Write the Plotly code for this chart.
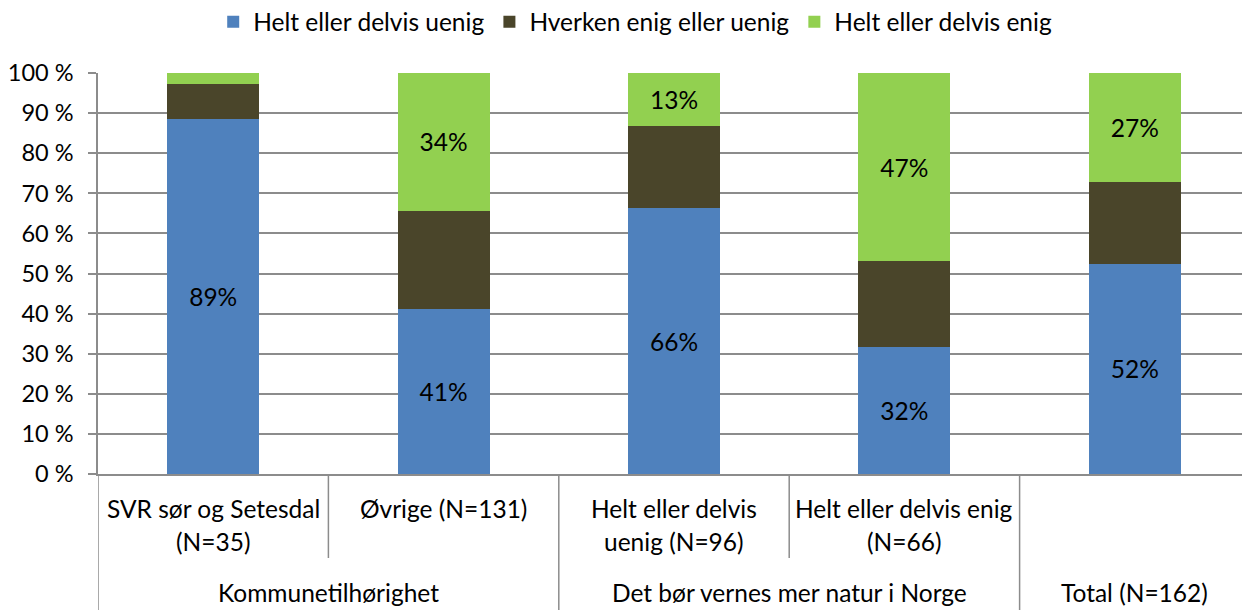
import plotly.graph_objects as go

# ---- data ----
categories = ["SVR sør og Setesdal (N=35)", "Øvrige (N=131)",
              "Helt eller delvis uenig (N=96)", "Helt eller delvis enig (N=66)",
              "Total (N=162)"]
cat_label_lines = [["SVR sør og Setesdal", "(N=35)"], ["Øvrige (N=131)"],
                   ["Helt eller delvis", "uenig (N=96)"], ["Helt eller delvis enig", "(N=66)"],
                   [""]]
groups = ["Kommunetilhørighet", "Det bør vernes mer natur i Norge", "Total (N=162)"]
group_members = [[0, 1], [2, 3], [4]]

series_names = ["Helt eller delvis uenig", "Hverken enig eller uenig", "Helt eller delvis enig"]
uenig = [88.6, 41.2, 66.3, 31.7, 52.4]
hverken = [8.6, 24.4, 20.5, 21.4, 20.4]
enig = [2.8, 34.4, 13.2, 46.9, 27.2]
show_labels = [True, False, True]

colors = ["#4F81BD", "#4A452A", "#92D050"]
FONT = "Lato"
FS = 24.5

fig = go.Figure()
for name, vals, col, lab in zip(series_names, [uenig, hverken, enig], colors, show_labels):
    txt = [f"{round(v)}%" if (lab and v >= 5) else "" for v in vals]
    fig.add_trace(go.Bar(
        x=categories, y=vals, name=name, marker=dict(color=col, line=dict(width=0)),
        text=txt, textposition="inside", insidetextanchor="middle", textangle=0,
        constraintext="none", textfont=dict(color="black", size=FS, family=FONT),
        hoverinfo="skip"))

n = len(categories)
fig.update_layout(
    width=1242, height=602, barmode="stack", bargap=0.6,
    margin=dict(l=90, r=0, t=65, b=136, autoexpand=False),
    plot_bgcolor="white", paper_bgcolor="white",
    font=dict(family=FONT, size=FS, color="black"),
    legend=dict(orientation="h", xref="container", yref="container",
                x=0.505, y=0.977, xanchor="center", yanchor="middle",
                font=dict(size=FS), itemwidth=30, traceorder="normal"),
    xaxis=dict(type="category", range=[-0.5, n - 0.5], showticklabels=False,
               showline=True, linecolor="#8c8c8c", linewidth=1.5, showgrid=False,
               zeroline=False, fixedrange=True),
    yaxis=dict(range=[0, 100], dtick=10, ticksuffix=" %", showgrid=True,
               gridcolor="#8c8c8c", gridwidth=1.5, showline=True, linecolor="#8c8c8c",
               linewidth=1.5, ticks="outside", ticklen=8, tickcolor="#8c8c8c",
               tickwidth=1.5, zeroline=False, ticklabelstandoff=10,
               tickfont=dict(size=23.5)),
)

# first-level category labels (one annotation per line)
for i, lines in enumerate(cat_label_lines):
    for k, line in enumerate(lines):
        if line:
            fig.add_annotation(x=categories[i], y=0, yref="paper", text=line,
                               showarrow=False, yanchor="middle", yshift=-34 - 33 * k,
                               font=dict(size=FS))

# group labels
for g, members in zip(groups, group_members):
    xc = sum(members) / len(members)
    fig.add_annotation(x=xc, y=0, yref="paper", text=g, showarrow=False,
                       yanchor="middle", yshift=-118, font=dict(size=FS))

# separators
boundaries_inner = [0.5, 2.5]
boundaries_full = [-0.5, 1.5, 3.5, n - 0.5]
for b in boundaries_inner:
    fig.add_shape(type="line", xref="x", yref="paper", ysizemode="pixel", yanchor=0,
                  x0=b, x1=b, y0=0, y1=-84, line=dict(color="#8c8c8c", width=1.5))
for b in boundaries_full:
    fig.add_shape(type="line", xref="x", yref="paper", ysizemode="pixel", yanchor=0,
                  x0=b, x1=b, y0=0, y1=-140, line=dict(color="#8c8c8c", width=1.5))

fig.write_html("out.html")
